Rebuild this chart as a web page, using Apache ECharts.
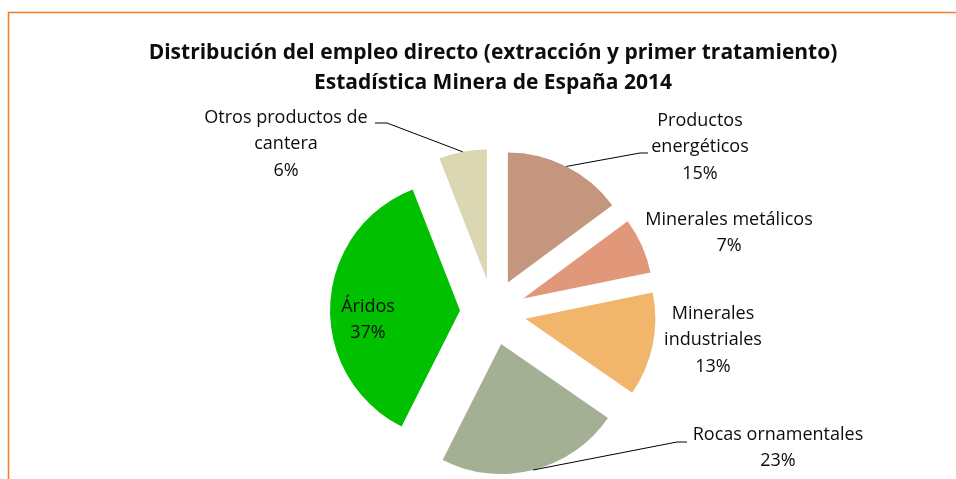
<!DOCTYPE html>
<html>
<head>
<meta charset="utf-8">
<script src="https://cdn.jsdelivr.net/npm/echarts@6/dist/echarts.min.js"></script>
<style>
  html, body { margin: 0; padding: 0; background: #fff; }
  #chart { width: 956px; height: 479px; }
</style>
</head>
<body>
<div id="chart"></div>
<script>
// Categories and shares (%), clockwise from 12 o'clock
const categories = [
  'Productos\nenergéticos',
  'Minerales metálicos',
  'Minerales\nindustriales',
  'Rocas ornamentales',
  'Áridos',
  'Otros productos de\ncantera'
];
const shares = [15, 7, 13, 23, 37, 6];
const colors = ['#C4967E', '#E1977A', '#F2B56C', '#A4B094', '#00C000', '#DAD7B2'];

// Pie geometry
const CENTER = [493, 312];
const RADIUS = 130;
const EXPLODE = 33;

// Label placement: centre of each label block and leader-line elbow/end (null = no line)
const labelPlacement = [
  { x: 700, y: 147, elbow: [640, 153], end: [648, 153] },
  { x: 729, y: 233, elbow: null, end: null },
  { x: 713, y: 340, elbow: null, end: null },
  { x: 778, y: 448, elbow: [677, 442], end: [687, 442] },
  { x: 368, y: 320, elbow: null, end: null },
  { x: 286, y: 144, elbow: [387, 123], end: [375, 123] }
];

const FONT = '"Open Sans"';
const TEXT_COLOR = '#0d0d0d';

const chart = echarts.init(document.getElementById('chart'), null, { renderer: 'canvas' });

// Exploded slices
const sliceData = categories.map((name, i) => ({
  name: name,
  value: shares[i],
  selected: true,
  itemStyle: { color: colors[i] }
}));

// Same slices, unexploded and invisible, carrying the labels and leader lines
const labelData = categories.map((name, i) => ({
  name: name,
  value: shares[i],
  label: i === 4 ? { position: 'inside' } : {},
  labelLine: { show: labelPlacement[i].elbow !== null }
}));

chart.setOption({
  animation: false,
  backgroundColor: '#ffffff',
  title: {
    text: 'Distribución del empleo directo (extracción y primer tratamiento)\nEstadística Minera de España 2014',
    left: 488,
    top: 33,
    textAlign: 'center',
    textStyle: {
      fontFamily: FONT,
      fontWeight: 'bold',
      fontSize: 21,
      lineHeight: 30,
      color: TEXT_COLOR
    }
  },
  graphic: [{
    type: 'rect',
    silent: true,
    shape: { x: 8.5, y: 12.5, width: 1000, height: 600 },
    style: { fill: null, stroke: '#F57A22', lineWidth: 1.5 }
  }],
  series: [{
    type: 'pie',
    z: 2,
    center: CENTER,
    radius: RADIUS,
    startAngle: 90,
    clockwise: true,
    selectedMode: 'multiple',
    selectedOffset: EXPLODE,
    emphasis: { scale: false },
    itemStyle: { borderWidth: 0 },
    label: { show: false },
    labelLine: { show: false },
    data: sliceData
  }, {
    type: 'pie',
    z: 5,
    silent: true,
    center: CENTER,
    radius: RADIUS,
    startAngle: 90,
    clockwise: true,
    emphasis: { scale: false },
    itemStyle: { color: 'rgba(0,0,0,0)', borderWidth: 0 },
    label: {
      show: true,
      position: 'outside',
      formatter: p => p.name + '\n' + p.value + '%',
      fontFamily: FONT,
      fontSize: 18,
      lineHeight: 26.5,
      color: TEXT_COLOR,
      align: 'center'
    },
    labelLine: {
      show: true,
      lineStyle: { color: '#000', width: 1 }
    },
    labelLayout: function (params) {
      const pl = labelPlacement[params.dataIndex];
      const out = { x: pl.x, y: pl.y, align: 'center', verticalAlign: 'middle' };
      if (pl.elbow && params.labelLinePoints) {
        // push the line start out to the exploded slice's arc
        const p0 = params.labelLinePoints[0];
        const dx = p0[0] - CENTER[0], dy = p0[1] - CENTER[1];
        const len = Math.sqrt(dx * dx + dy * dy) || 1;
        const start = [p0[0] + dx / len * EXPLODE, p0[1] + dy / len * EXPLODE];
        out.labelLinePoints = [start, pl.elbow, pl.end];
      }
      return out;
    },
    data: labelData
  }]
});
</script>
</body>
</html>
